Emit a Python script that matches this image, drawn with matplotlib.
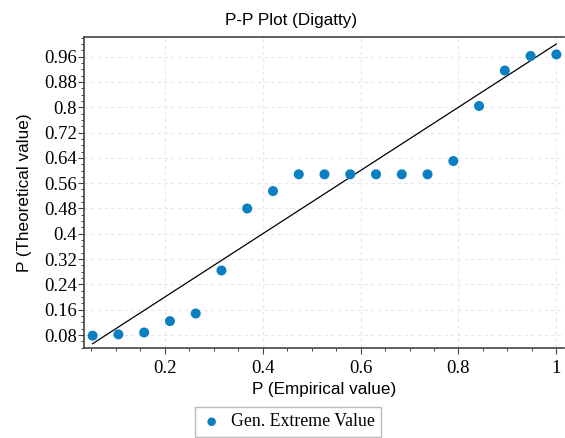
#!/usr/bin/env python3
"""P-P plot (Digatty) against a generalised extreme value fit."""

import matplotlib

matplotlib.use("Agg")
import matplotlib.pyplot as plt
from matplotlib.ticker import MultipleLocator

# empirical probabilities (i / 19) and fitted theoretical probabilities
P_EMPIRICAL = [
    0.0526, 0.1053, 0.1579, 0.2105, 0.2632, 0.3158, 0.3684, 0.4211, 0.4737, 0.5263,
    0.5789, 0.6316, 0.6842, 0.7368, 0.7895, 0.8421, 0.8947, 0.9474, 1.0,
]
P_THEORETICAL = [
    0.078, 0.082, 0.088, 0.124, 0.148, 0.284, 0.480, 0.535, 0.588, 0.588,
    0.588, 0.588, 0.588, 0.588, 0.630, 0.804, 0.916, 0.962, 0.967,
]
REF_LINE = [0.0526, 1.0]
Y_TICKS = [0.08, 0.16, 0.24, 0.32, 0.4, 0.48, 0.56, 0.64, 0.72, 0.8, 0.88, 0.96]
Y_TICK_LABELS = ["0.08", "0.16", "0.24", "0.32", "0.4", "0.48", "0.56", "0.64", "0.72", "0.8", "0.88", "0.96"]
X_TICKS = [0.2, 0.4, 0.6, 0.8, 1.0]
X_TICK_LABELS = ["0.2", "0.4", "0.6", "0.8", "1"]
SERIES_LABEL = "Gen. Extreme Value"

BLUE = "#0a7fc2"
SANS = "Liberation Sans"
SERIF = "Liberation Serif"

fig = plt.figure(figsize=(5.65, 4.38), dpi=100)
ax = fig.add_axes([0.1487, 0.2055, 0.849, 0.71])

ax.plot(REF_LINE, REF_LINE, color="black", linewidth=0.9, zorder=2)
ax.scatter(P_EMPIRICAL, P_THEORETICAL, s=52, color=BLUE, edgecolors="none",
           label=SERIES_LABEL, zorder=3)

ax.set_xlim(0.035, 1.015)
ax.set_ylim(0.039, 1.022)
ax.set_xticks(X_TICKS, X_TICK_LABELS)
ax.set_yticks(Y_TICKS, Y_TICK_LABELS)
ax.xaxis.set_minor_locator(MultipleLocator(0.05))
ax.yaxis.set_minor_locator(MultipleLocator(0.02))

ax.grid(True, which="major", color="#e6e6e6", linestyle=(0, (3, 3)), linewidth=0.8)
ax.set_axisbelow(True)

for side in ("top", "left", "bottom"):
    ax.spines[side].set_color("#444444")
    ax.spines[side].set_linewidth(1.2)
ax.spines["right"].set_visible(False)

ax.tick_params(which="major", direction="out", length=4, width=0.8, color="#444444",
               labelsize=13.5)
ax.tick_params(which="minor", direction="out", length=2, width=0.7, color="#444444")
ax.tick_params(axis="y", which="major", pad=1)
ax.tick_params(axis="x", which="major", pad=5)
for lbl in ax.get_xticklabels() + ax.get_yticklabels():
    lbl.set_fontfamily(SERIF)

fig.text(291 / 565, 1 - 21 / 438, "P-P Plot (Digatty)", fontsize=12.3, family=SANS,
         ha="center", va="center")
ax.set_xlabel("P (Empirical value)", fontsize=12.3, family=SANS, labelpad=3)
ax.set_ylabel("P (Theoretical value)", fontsize=12.3, family=SANS, labelpad=9)

fig.legend(loc="lower center", bbox_to_anchor=(288 / 565, -0.005), frameon=True, fancybox=False,
           edgecolor="#aaaaaa", prop={"family": SERIF, "size": 12.8}, handletextpad=0.5,
           borderpad=0.35, borderaxespad=0.2, handlelength=1.2, markerscale=0.85)

fig.savefig("out.png", dpi=100)
